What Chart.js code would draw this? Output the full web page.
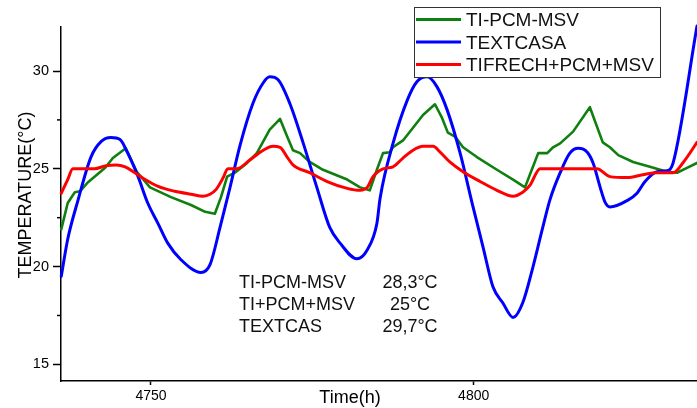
<!DOCTYPE html>
<html>
<head>
<meta charset="utf-8">
<script src="https://cdn.jsdelivr.net/npm/chart.js@4.4.1/dist/chart.umd.min.js"></script>
<style>
  html, body { margin: 0; padding: 0; background: #fff; }
</style>
</head>
<body>
<canvas id="chart" width="697" height="408"></canvas>
<script>
const FONT = '"Liberation Sans", Arial, sans-serif';

const xTicks = [4750, 4800];
const yTicks = [15, 20, 25, 30];
const yMinorTicks = [17.5, 22.5, 27.5];

const seriesNames = ["TI-PCM-MSV", "TEXTCASA", "TIFRECH+PCM+MSV"];
const seriesColors = ["#0f800f", "#0000ff", "#ff0000"];

// TI-PCM-MSV
const pcmTime = [4736.1, 4737.1, 4738.2, 4739.0, 4740.2, 4741.3, 4742.9, 4744.1, 4746.1, 4747.8,
  4749.85, 4753.1, 4756.2, 4758.4, 4759.9, 4760.85, 4761.8, 4763.0, 4764.9, 4766.4,
  4768.4, 4770.0, 4771.1, 4772.0, 4773.1, 4774.6, 4776.65, 4780.4, 4782.4, 4783.9,
  4785.0, 4785.95, 4787.0, 4787.5, 4789.05, 4790.6, 4792.15, 4794.0, 4795.1, 4796.0,
  4797.1, 4798.35, 4800.5, 4803.6, 4806.1, 4807.95, 4809.0, 4810.0, 4811.4, 4812.3,
  4813.4, 4815.4, 4818.0, 4820.0, 4821.1, 4822.4, 4824.7, 4827.3, 4829.95, 4831.5,
  4833.05, 4834.6];
const pcmTemp = [21.9, 23.25, 23.8, 23.85, 24.3, 24.6, 25.05, 25.55, 26.05, 24.85,
  24.05, 23.55, 23.15, 22.8, 22.7, 23.55, 24.6, 24.8, 25.3, 25.8,
  27.0, 27.55, 26.65, 25.95, 25.8, 25.35, 24.95, 24.45, 24.05, 23.9,
  24.95, 25.8, 25.85, 26.1, 26.45, 27.1, 27.75, 28.3, 27.6, 26.85,
  26.65, 26.1, 25.6, 24.95, 24.45, 24.05, 24.95, 25.8, 25.8, 26.1,
  26.3, 26.9, 28.15, 26.35, 26.1, 25.7, 25.35, 25.1, 24.85, 24.8,
  25.05, 25.3];

// TEXTCASA
const extTime = [4736.1, 4737.1, 4738.7, 4740.7, 4742.3, 4743.8, 4745.2, 4746.4, 4748.0, 4749.5,
  4751.1, 4752.6, 4754.65, 4757.75, 4759.15, 4760.7, 4762.25, 4763.8, 4765.8, 4767.4,
  4768.4, 4769.7, 4771.5, 4773.6, 4775.7, 4777.7, 4779.3, 4781.9, 4783.5, 4785.0,
  4785.5, 4787.5, 4789.7, 4791.2, 4792.8, 4794.3, 4795.9, 4797.9, 4799.9, 4801.45,
  4803.0, 4804.5, 4806.1, 4807.6, 4809.2, 4810.7, 4811.8, 4813.4, 4814.9, 4816.2,
  4817.6, 4818.5, 4819.6, 4820.35, 4821.1, 4823.9, 4825.3, 4826.55, 4828.4, 4829.95,
  4830.9, 4834.6];
const extTemp = [19.5, 21.4, 23.4, 25.6, 26.4, 26.6, 26.5, 25.8, 24.6, 23.25,
  22.2, 21.2, 20.35, 19.7, 20.1, 22.0, 24.05, 26.2, 28.35, 29.4,
  29.7, 29.55, 28.35, 26.3, 24.05, 22.0, 21.2, 20.4, 20.85, 22.2,
  23.5, 26.3, 28.5, 29.45, 29.7, 29.2, 28.0, 25.8, 23.05, 21.0,
  18.95, 18.15, 17.4, 18.15, 20.0, 22.0, 23.4, 24.8, 25.8, 26.05,
  25.85, 25.3, 24.05, 23.3, 23.05, 23.4, 23.75, 24.35, 24.85, 24.9,
  25.3, 32.3];

// TIFRECH+PCM+MSV
const frechTime = [4736.1, 4737.1, 4737.9, 4739.8, 4741.3, 4742.9, 4744.6, 4746.0, 4747.5, 4749.1,
  4751.1, 4753.7, 4756.2, 4758.1, 4759.15, 4760.1, 4761.2, 4761.9, 4763.3, 4765.3,
  4767.4, 4768.9, 4770.0, 4771.1, 4772.0, 4774.6, 4777.3, 4780.4, 4782.4, 4783.5,
  4784.4, 4785.95, 4787.5, 4789.05, 4790.6, 4792.15, 4793.7, 4794.8, 4796.3, 4798.35,
  4801.0, 4803.6, 4806.1, 4807.6, 4808.7, 4810.3, 4819.1, 4821.1, 4823.8, 4826.2,
  4828.4, 4830.9, 4832.4, 4834.6];
const frechTemp = [23.75, 24.45, 25.0, 25.0, 25.0, 25.15, 25.2, 25.1, 24.8, 24.45,
  24.1, 23.85, 23.7, 23.6, 23.7, 23.95, 24.55, 25.0, 25.0, 25.45,
  25.95, 26.15, 26.1, 25.6, 25.2, 24.8, 24.35, 24.0, 23.9, 24.05,
  24.6, 25.0, 25.1, 25.55, 25.95, 26.15, 26.15, 25.85, 25.35, 24.85,
  24.35, 23.9, 23.6, 23.8, 24.15, 25.0, 25.0, 24.6, 24.55, 24.7,
  24.8, 24.8, 25.3, 26.35];

// peak values written inside the plot
const summaryLabels = ["TI-PCM-MSV", "TI+PCM+MSV", "TEXTCAS"];
const summaryValues = ["28,3°C", "25°C", "29,7°C"];

const toPoints = (xs, ys) => xs.map((x, i) => ({ x: x, y: ys[i] }));

const decorations = {
  id: "decorations",
  afterDraw(chart) {
    const ctx = chart.ctx;
    const area = chart.chartArea;
    const yScale = chart.scales.y;
    ctx.save();

    // short minor ticks on the temperature axis
    ctx.strokeStyle = "#000";
    ctx.lineWidth = 1.5;
    yMinorTicks.forEach(v => {
      const py = yScale.getPixelForValue(v);
      ctx.beginPath();
      ctx.moveTo(area.left - 4, py);
      ctx.lineTo(area.left, py);
      ctx.stroke();
    });

    // axis titles
    ctx.fillStyle = "#000";
    ctx.font = "18px " + FONT;
    ctx.textAlign = "center";
    ctx.textBaseline = "alphabetic";
    ctx.fillText("Time(h)", 350, 403);
    ctx.save();
    ctx.translate(31, 195);
    ctx.rotate(-Math.PI / 2);
    ctx.fillText("TEMPERATURE(°C)", 0, 0);
    ctx.restore();

    // legend box
    ctx.fillStyle = "#fff";
    ctx.fillRect(414.5, 7.5, 246, 70);
    ctx.strokeStyle = "#333";
    ctx.lineWidth = 1;
    ctx.strokeRect(414.5, 7.5, 246, 70);
    ctx.font = "19px " + FONT;
    ctx.textAlign = "left";
    chart.data.datasets.forEach((ds, i) => {
      const ly = 19.5 + i * 22.5;
      ctx.strokeStyle = ds.borderColor;
      ctx.lineWidth = 3;
      ctx.beginPath();
      ctx.moveTo(416, ly);
      ctx.lineTo(461, ly);
      ctx.stroke();
      ctx.fillStyle = "#111";
      ctx.fillText(ds.label, 466, ly + 6.7);
    });

    // peak summary
    ctx.font = "18px " + FONT;
    ctx.fillStyle = "#111";
    summaryLabels.forEach((t, i) => {
      const by = 288 + i * 22;
      ctx.textAlign = "left";
      ctx.fillText(t, 239, by);
      ctx.textAlign = "center";
      ctx.fillText(summaryValues[i], 410, by);
    });

    ctx.restore();
  }
};

new Chart(document.getElementById("chart"), {
  type: "line",
  data: {
    datasets: [
      { label: seriesNames[0], data: toPoints(pcmTime, pcmTemp), borderColor: seriesColors[0],
        borderWidth: 2.6, tension: 0, order: 2 },
      { label: seriesNames[1], data: toPoints(extTime, extTemp), borderColor: seriesColors[1],
        borderWidth: 3, cubicInterpolationMode: "monotone", order: 1 },
      { label: seriesNames[2], data: toPoints(frechTime, frechTemp), borderColor: seriesColors[2],
        borderWidth: 3, cubicInterpolationMode: "monotone", order: 0 }
    ]
  },
  options: {
    responsive: false,
    animation: false,
    layout: { padding: { top: 27, left: 0, right: 0, bottom: 0 } },
    plugins: { legend: { display: false }, tooltip: { enabled: false } },
    elements: { point: { radius: 0 }, line: { borderJoinStyle: "round", borderCapStyle: "round" } },
    datasets: { line: { clip: 6, fill: false } },
    scales: {
      x: {
        type: "linear",
        min: 4736.06,
        max: 4834.6,
        afterBuildTicks: s => { s.ticks = xTicks.map(v => ({ value: v })); },
        afterFit: s => { s.height = 27; },
        grid: { drawOnChartArea: false, tickLength: 4, tickColor: "#000", tickWidth: 1.5 },
        border: { color: "#000", width: 1.5 },
        ticks: { color: "#000", font: { family: FONT, size: 14 }, padding: 3, maxRotation: 0,
          autoSkip: false, callback: v => String(v) }
      },
      y: {
        min: 14.15,
        max: 32.25,
        afterBuildTicks: s => { s.ticks = yTicks.map(v => ({ value: v })); },
        afterFit: s => { s.width = 61; },
        grid: { drawOnChartArea: false, tickLength: 8, tickColor: "#000", tickWidth: 1.5 },
        border: { color: "#000", width: 1.5 },
        ticks: { color: "#000", font: { family: FONT, size: 14.5 }, padding: 4, callback: v => String(v) }
      }
    }
  },
  plugins: [decorations]
});
</script>
</body>
</html>
